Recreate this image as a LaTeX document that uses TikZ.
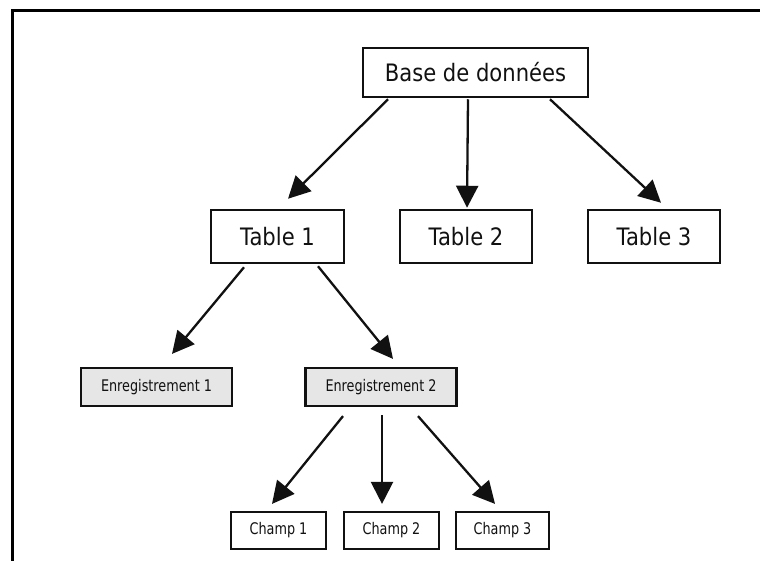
\documentclass[tikz,border=0pt]{standalone}
\usepackage{fontspec}
\setmainfont{DejaVu Sans}
\newfontfamily\bigfont[FakeStretch=0.88]{DejaVu Sans}
\newfontfamily\smallfont[FakeStretch=0.8]{DejaVu Sans}
\usetikzlibrary{arrows.meta}
\definecolor{ink}{HTML}{111111}
\definecolor{recfill}{HTML}{E6E6E6}
\tikzset{
  bigbox/.style={draw=ink, line width=2.5pt, inner sep=0pt, font=\bigfont\fontsize{24}{28}\selectfont, text=ink},
  recbox/.style={draw=ink, line width=2.2pt, fill=recfill, inner sep=0pt, minimum width=151pt, minimum height=38pt, font=\smallfont\fontsize{16}{19}\selectfont, text=ink},
  fieldbox/.style={draw=ink, line width=2.2pt, inner sep=0pt, minimum height=37pt, font=\smallfont\fontsize{16}{19}\selectfont, text=ink},
  arr/.style={draw=ink, line width=2.3pt, -{Triangle[length=22pt,width=22pt]}},
  frame/.style={draw=black, line width=3pt}
}
\begin{document}
\begin{tikzpicture}[x=1pt,y=-1pt]
  \useasboundingbox (0,0) rectangle (760,560);
  % outer frame (left and top edges)
  \coordinate (fbl) at (12,562);
  \coordinate (ftl) at (12,10);
  \coordinate (ftr) at (762,10);
  \draw[frame] (fbl) -- (ftl) -- (ftr);

  % database and tables
  \node[bigbox, minimum width=225pt, minimum height=49pt] (base) at (475.5,72.5) {Base de données};
  \node[bigbox, minimum width=133pt, minimum height=53pt] (t1) at (277.5,236.5) {Table 1};
  \node[bigbox, minimum width=132pt, minimum height=53pt] (t2) at (466,236.5) {Table 2};
  \node[bigbox, minimum width=132pt, minimum height=53pt] (t3) at (654,236.5) {Table 3};

  % records
  \node[recbox] (e1) at (156.5,387) {Enregistrement 1};
  \node[recbox] (e2) at (381,387) {Enregistrement 2};

  % fields
  \node[fieldbox, minimum width=95pt] (c1) at (278.5,530.5) {Champ 1};
  \node[fieldbox, minimum width=95pt] (c2) at (391.5,530.5) {Champ 2};
  \node[fieldbox, minimum width=93pt] (c3) at (502.5,530.5) {Champ 3};

  % connectors
  \draw[arr] ([xshift=-87.5pt,yshift=-1pt]base.south) -- ([xshift=10.5pt,yshift=10pt]t1.north);
  \draw[arr] ([xshift=-7.5pt,yshift=-1pt]base.south) -- ([xshift=1pt,yshift=1pt]t2.north);
  \draw[arr] ([xshift=74.5pt,yshift=-1pt]base.south) -- ([xshift=7pt,yshift=6pt]t3.north);

  \draw[arr] ([xshift=-33.5pt,yshift=-3pt]t1.south) -- ([xshift=15.5pt,yshift=13pt]e1.north);
  \draw[arr] ([xshift=40.5pt,yshift=-2pt]t1.south) -- ([xshift=12pt,yshift=8pt]e2.north);

  \draw[arr] ([xshift=-38pt,yshift=-9pt]e2.south) -- ([xshift=-6.5pt,yshift=7pt]c1.north);
  \draw[arr] ([xshift=1pt,yshift=-8pt]e2.south) -- ([xshift=-9.5pt,yshift=7pt]c2.north);
  \draw[arr] ([xshift=37pt,yshift=-9pt]e2.south) -- ([xshift=-7.5pt,yshift=7pt]c3.north);
\end{tikzpicture}
\end{document}
